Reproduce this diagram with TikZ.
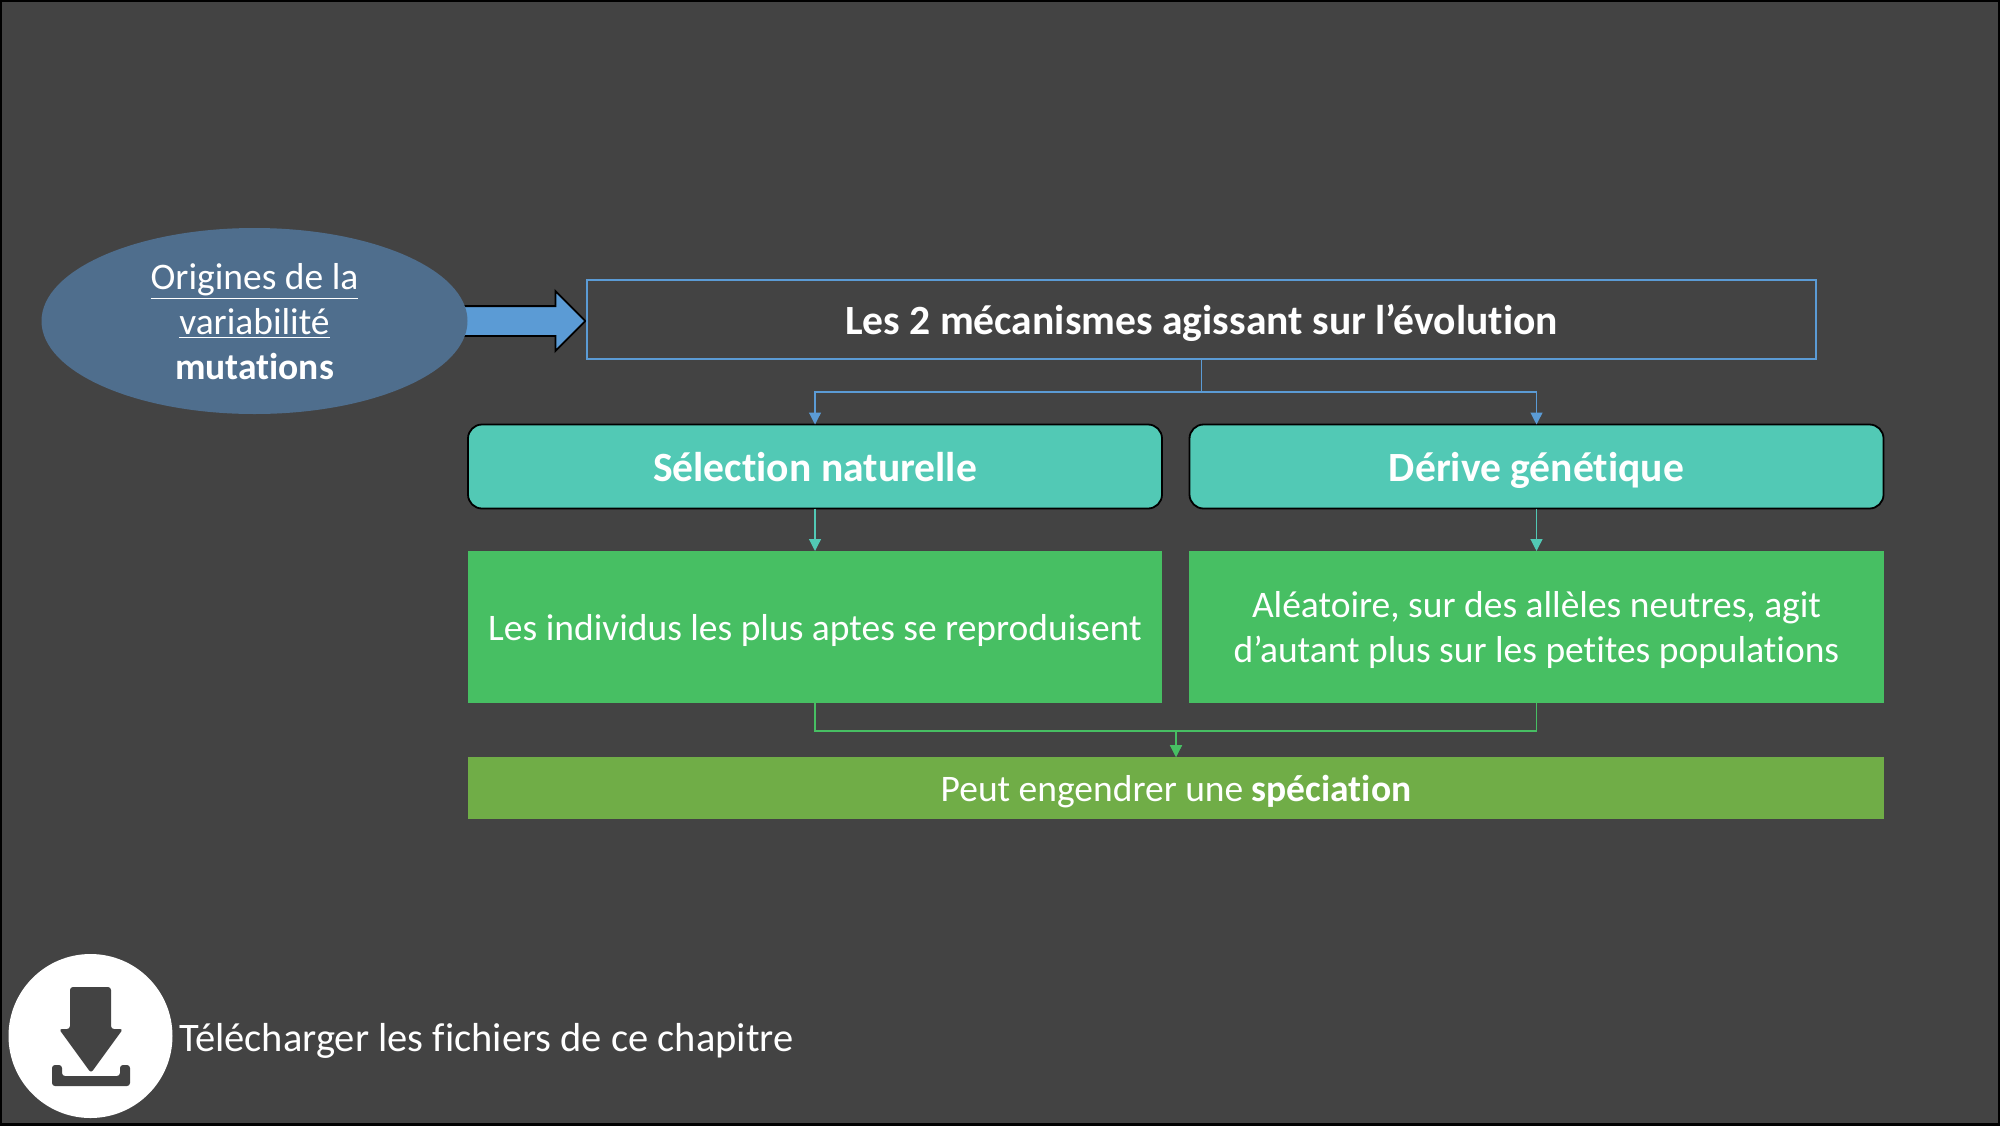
\documentclass[tikz,border=0pt]{standalone}
\usepackage{fontspec}
\setmainfont[Ligatures=NoCommon]{Carlito}
\usetikzlibrary{arrows.meta,shapes.geometric,shapes.arrows}
\definecolor{slidebg}{HTML}{434343}
\definecolor{ovalblue}{HTML}{4F6E8D}
\definecolor{linkblue}{HTML}{5B9BD5}
\definecolor{teal1}{HTML}{52C9B5}
\definecolor{green1}{HTML}{47BF63}
\definecolor{lime1}{HTML}{70AD47}

\begin{document}
\begin{tikzpicture}
  [x=.5pt,y=-.5pt,every node/.style={text=white,outer sep=0pt,inner sep=0pt,align=center},
   big/.style={font=\fontsize{18.75}{22.6}\selectfont,text height=17.7pt,text depth=4.5pt},
   head/.style={font=\fontsize{20.8}{25}\selectfont\bfseries,text height=19.6pt,text depth=5pt},
   tealbox/.style={head,fill=teal1,draw=black,line width=.9pt,rounded corners=7pt,minimum width=347pt,minimum height=42pt},
   greenbox/.style={big,fill=green1,minimum width=347pt,minimum height=76pt},
   link/.style={line width=.6pt,-{Triangle[width=6pt,length=6pt]}}]
  \useasboundingbox (0,0) rectangle (2000,1125);
  \draw[fill=slidebg,draw=black,line width=2pt] (0,0) rectangle (2000,1125);

  \node (push) at (506,321) [single arrow,draw=black,fill=linkblue,line width=.9pt,
    minimum height=72pt,minimum width=29pt,inner ysep=7pt,inner xsep=0pt,
    single arrow head extend=7.5pt] {};
  \node (orig) at (254.5,321) [big,text height=62.9pt,ellipse,inner ysep=-1.5pt,fill=ovalblue,minimum width=213pt,minimum height=93pt]
    {\underline{Origines de la}\\\underline{variabilité}\\\textbf{mutations}};
  \node (title) at (1201.5,319) [head,text height=20.6pt,draw=linkblue,line width=1pt,minimum width=614.5pt,minimum height=39.5pt]
    {Les 2 mécanismes agissant sur l’évolution};

  \node (sel) at (815,466.5) [tealbox] {Sélection naturelle};
  \node (der) at (1536.5,466.5) [tealbox] {Dérive génétique};
  \node (indiv) at (815,627) [greenbox] {Les individus les plus aptes se reproduisent};
  \node (alea) at (1536.5,627) [greenbox,minimum width=347.5pt,text height=40.3pt]
    {Aléatoire, sur des allèles neutres, agit\\d’autant plus sur les petites populations};
  \node (spec) at (1176,788) [big,fill=lime1,minimum width=708pt,minimum height=31pt]
    {Peut engendrer une \textbf{spéciation}};

  \coordinate (up) at (1201.5,392);
  \coordinate (low) at (1176,731);
  \draw[link,draw=linkblue] (title.south) -- (up) -| (sel.north);
  \draw[link,draw=linkblue] (title.south) -- (up) -| (der.north);
  \draw[link,draw=teal1] (sel.south) -- (indiv.north);
  \draw[link,draw=teal1] (der.south) -- (alea.north);
  \draw[link,draw=green1] (indiv.south) |- (low) -- (spec.north-|low);
  \draw[link,draw=green1] (alea.south) |- (low) -- (spec.north-|low);

  % download icon
  \node (dl) at (90.5,1036) [circle,fill=white,minimum size=82pt] {};
  \fill[slidebg,rounded corners=1.5pt] (70,987) -- (111,987) -- (111,1029) -- (123,1029)
    -- (91,1073) -- (59,1029) -- (70,1029) -- cycle;
  \fill[slidebg,rounded corners=1.5pt] (52,1065) -- (62,1065) -- (62,1076) -- (120,1076)
    -- (120,1065) -- (130,1065) -- (130,1086) -- (52,1086) -- cycle;
  \node (txt) at (179,1037) [anchor=west,font=\fontsize{20.25}{25}\selectfont,text height=19.6pt,text depth=5pt] {Télécharger les fichiers de ce chapitre};
\end{tikzpicture}
\end{document}
